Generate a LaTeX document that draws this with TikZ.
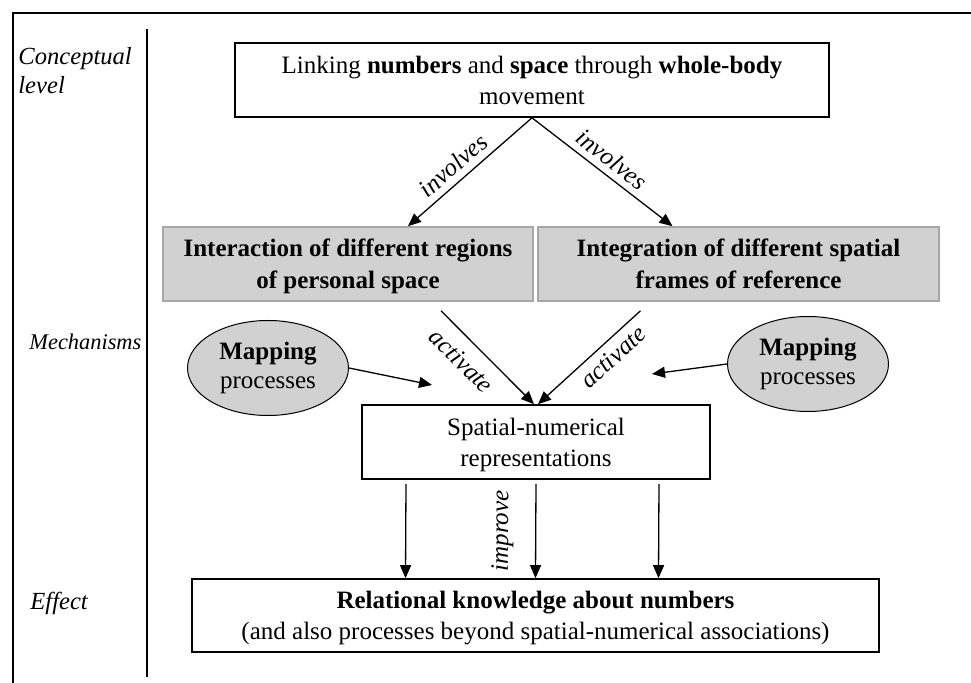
\documentclass[tikz,border=0pt]{standalone}
\usepackage{fontspec}
\setmainfont{Liberation Serif}
\usetikzlibrary{shapes, arrows.meta}

\begin{document}
\begin{tikzpicture}[x=0.5pt, y=-0.5pt,
        every node/.style={font=\fontsize{12.5}{15.5}\selectfont},
        box/.style={draw, line width=0.8pt, align=center, minimum height=37pt, text depth=0pt},
        graybox/.style={draw=black!35, fill=black!18, line width=0.8pt, align=center, minimum height=37pt, text depth=0pt, font=\fontsize{12.5}{16}\selectfont\bfseries},
        mapping/.style={draw, ellipse, fill=black!18, line width=0.5pt, align=center, minimum width=80.5pt, minimum height=47.5pt, inner sep=0pt, font=\fontsize{12.5}{14.5}\selectfont},
        arr/.style={-{Triangle[length=6.5pt, width=5.5pt]}, line width=0.65pt},
        lvl/.style={font=\fontsize{12.3}{14.5}\selectfont\itshape, inner sep=0pt},
        lab/.style={font=\fontsize{12.5}{15.5}\selectfont\itshape}]
    \useasboundingbox (0,0) rectangle (971,683);
    \draw[line width=1.1pt] (971,13) -- (13,13) -- (13,683);
    \draw[line width=0.6pt] (147,29) -- (147,677);

    \node[lvl, anchor=north west, align=left] (lvlconc) at (18,47) {Conceptual\\level};
    \node[lvl, anchor=base west, font=\fontsize{11.2}{13}\selectfont\itshape] (lvlmech) at (29,350) {Mechanisms};
    \node[lvl, anchor=base west] (lvleff) at (30,610) {Effect};

    \node[box, minimum width=297pt] (link) at (532,80) {Linking \textbf{numbers} and \textbf{space} through \textbf{whole-body}\\movement};
    \node[graybox, minimum width=185pt] (regions) at (348,264) {Interaction of different regions\\of personal space};
    \node[graybox, minimum width=200.5pt] (frames) at (738.5,264) {Integration of different spatial\\frames of reference};
    \node[mapping] (mapL) at (268,368) {\textbf{Mapping}\\processes};
    \node[mapping] (mapR) at (808,364) {\textbf{Mapping}\\processes};
    \node[box, minimum width=174pt] (snr) at (536,442) {Spatial-numerical\\representations};
    \node[box, minimum width=343.5pt, minimum height=36.5pt] (rel) at (535.5,615.5) {\textbf{Relational knowledge about numbers}\\(and also processes beyond spatial-numerical associations)};

    \coordinate (mapLtip) at (432,385);
    \coordinate (mapRtip) at (652,374);

    \draw[arr] (link.south) -- node[lab, sloped, above, pos=0.55] {involves} ([xshift=30pt]regions.north);
    \draw[arr] (link.south) -- node[lab, sloped, above] {involves} ([xshift=-33pt]frames.north);
    \draw[arr] ([xshift=46.5pt, yshift=-4.5pt]regions.south) -- node[lab, sloped, below=2.5pt, pos=0.38] {activate} ([xshift=-1pt]snr.north);
    \draw[arr] ([xshift=-49pt, yshift=-4.5pt]frames.south) -- node[lab, sloped, below, pos=0.37] {activate} ([xshift=1pt]snr.north);
    \draw[arr] (mapL.east) -- (mapLtip);
    \draw[arr] (mapR.west) -- (mapRtip);
    \draw[arr] ([xshift=-65pt, yshift=-2pt]snr.south) -- ([xshift=-65pt]rel.north);
    \draw[arr] ([yshift=-2pt]snr.south) -- node[lab, sloped, above=7.5pt] {improve} (rel.north);
    \draw[arr] ([xshift=61.5pt, yshift=-2pt]snr.south) -- ([xshift=61.5pt]rel.north);
\end{tikzpicture}
\end{document}
